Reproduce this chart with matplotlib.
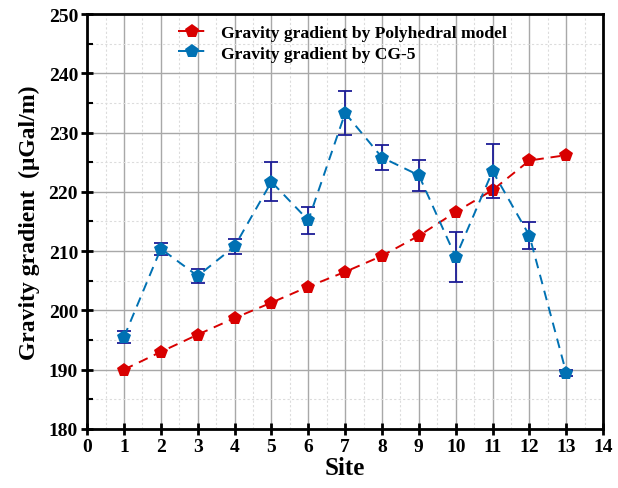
import numpy as np
import matplotlib
matplotlib.use("Agg")
import matplotlib.pyplot as plt
from matplotlib.ticker import MultipleLocator

plt.rcParams['font.family'] = ['Liberation Serif', 'DejaVu Serif']
plt.rcParams['font.weight'] = 'bold'

# data
sites = [1, 2, 3, 4, 5, 6, 7, 8, 9, 10, 11, 12, 13]
poly_model = [190.0, 193.0, 195.9, 198.7, 201.3, 204.0, 206.5, 209.2, 212.6, 216.6, 220.3, 225.3, 226.2]
cg5 = [195.5, 210.4, 205.8, 210.8, 221.7, 215.2, 233.3, 225.8, 222.8, 209.0, 223.5, 212.6, 189.4]
cg5_err = [1.0, 1.0, 1.2, 1.25, 3.3, 2.3, 3.7, 2.05, 2.6, 4.15, 4.5, 2.3, 0.5]

red = "#d80000"
blue = "#0071b3"
navy = "#1c1c96"

fig = plt.figure(figsize=(6.18, 4.89), dpi=100)
ax = fig.add_axes([0.141, 0.121, 0.835, 0.848])

ax.plot(sites, poly_model, color=red, linestyle=(0, (5, 3.5)), lw=1.4,
        marker='p', markersize=10, markeredgewidth=0,
        label="Gravity gradient by Polyhedral model", zorder=3)
ax.errorbar(sites, cg5, yerr=cg5_err, fmt='none', ecolor=navy, elinewidth=1.3,
            capsize=5, capthick=1.3, zorder=4)
ax.plot(sites, cg5, color=blue, linestyle=(0, (5, 3.5)), lw=1.4,
        marker='p', markersize=10, markeredgewidth=0,
        label="Gravity gradient by CG-5", zorder=5)

ax.set_xlim(0, 14)
ax.set_ylim(180, 250)
ax.xaxis.set_major_locator(MultipleLocator(1))
ax.xaxis.set_minor_locator(MultipleLocator(0.5))
ax.yaxis.set_major_locator(MultipleLocator(10))
ax.yaxis.set_minor_locator(MultipleLocator(5))

ax.grid(True, which='major', color='#a8a8a8', lw=1.0)
ax.grid(True, which='minor', color='#dcdcdc', lw=0.8, linestyle=(0, (2, 2)))
ax.set_axisbelow(True)

for s in ax.spines.values():
    s.set_linewidth(2.0)

ax.tick_params(axis='both', which='major', direction='inout', length=9, width=2,
               labelsize=14, pad=2)
ax.tick_params(axis='x', which='minor', length=0)
ax.tick_params(axis='y', which='minor', direction='in', length=4, width=1.5)
for lab in ax.get_xticklabels() + ax.get_yticklabels():
    lab.set_fontweight('bold')

ax.set_xlabel("Site", fontsize=18, fontweight='bold', labelpad=1)
ax.set_ylabel("Gravity gradient  (\u03bcGal/m)", fontsize=17, fontweight='bold', labelpad=6)

leg = ax.legend(loc='upper left', bbox_to_anchor=(0.155, 1.0), frameon=False,
                prop={'size': 12.6, 'weight': 'bold'}, handlelength=1.6,
                handletextpad=0.9, labelspacing=0.25, borderaxespad=0.2)

fig.savefig("out.png", dpi=100)
